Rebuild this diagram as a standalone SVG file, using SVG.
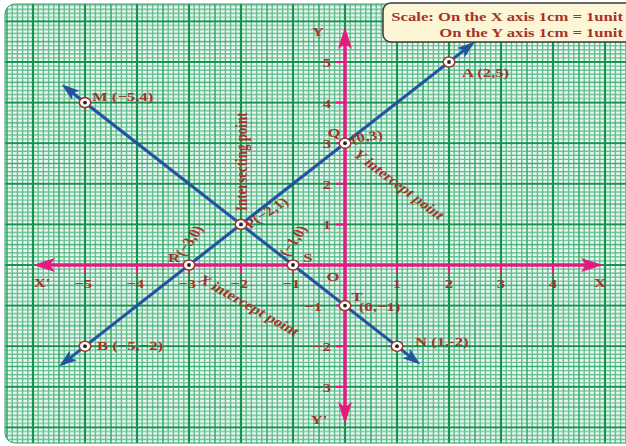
<svg xmlns="http://www.w3.org/2000/svg" width="626" height="446" viewBox="0 0 626 446">
<style>
.tick{font-family:"Liberation Serif","Times New Roman",serif;font-weight:bold;font-size:13px;fill:#a3342b}
.lbl{font-family:"Liberation Serif","Times New Roman",serif;font-weight:bold;font-size:13px;fill:#a3342b}
.scale{font-family:"Liberation Serif","Times New Roman",serif;font-weight:bold;font-size:13px;fill:#a3342b}
.axis{stroke:#e6197f;stroke-width:3.5;fill:none}
.tk{stroke:#e6197f;stroke-width:2}
.line{stroke:#2253a3;stroke-width:3;fill:none}
.pt{fill:#fff;stroke:#a3342b;stroke-width:1.6}
.dot{fill:#222}
</style>
<defs>
<pattern id="grid" patternUnits="userSpaceOnUse" x="345" y="265" width="52" height="40.6">
<rect width="52" height="40.6" fill="#f2faf5"/>
<path d="M5.2 0V40.6M10.4 0V40.6M15.6 0V40.6M20.8 0V40.6M31.2 0V40.6M36.4 0V40.6M41.6 0V40.6M46.8 0V40.6M0 4.06H52M0 8.12H52M0 12.18H52M0 16.24H52M0 24.36H52M0 28.42H52M0 32.48H52M0 36.54H52" stroke="#62be8f" stroke-width="1.4"/>
<path d="M26 0V40.6M0 20.3H52" stroke="#3aab70" stroke-width="1.6"/>
<path d="M0 0V40.6M52 0V40.6M0 0H52M0 40.6H52" stroke="#14954d" stroke-width="2.2"/>
</pattern>
<marker id="pinkArrow" markerUnits="userSpaceOnUse" viewBox="-14 -8 26 16" markerWidth="26" markerHeight="16" refX="0" refY="0" orient="auto-start-reverse">
<path d="M10,0 L-12,-7 L-7,0 L-12,7 z" fill="#e6197f"/>
</marker>
<marker id="blueArrow" markerUnits="userSpaceOnUse" viewBox="-12 -7 22 14" markerWidth="22" markerHeight="14" refX="0" refY="0" orient="auto-start-reverse">
<path d="M8,0 L-10,-6 L-6,0 L-10,6 z" fill="#2253a3"/>
</marker>
</defs>

<g id="paper">
<rect x="5" y="4" width="640" height="439" rx="10" fill="url(#grid)" stroke="#2e9e60" stroke-width="1"/>
</g>

<g id="axes">
<line class="axis" x1="43" y1="265" x2="593" y2="265" marker-start="url(#pinkArrow)" marker-end="url(#pinkArrow)"/>
<line class="axis" x1="345" y1="37" x2="345" y2="414" marker-start="url(#pinkArrow)" marker-end="url(#pinkArrow)"/>
<path class="tk" d="M85 265V273M137 265V273M189 265V273M241 265V273M293 265V273M397 265V273M449 265V273M501 265V273M553 265V273M336 62H345M336 102.6H345M336 143.2H345M336 183.8H345M336 224.4H345M336 305.6H345M336 346.2H345M336 386.8H345"/>
<g class="tick">
<text transform="translate(42 287) scale(1.28 1)" text-anchor="middle">X'</text>
<text transform="translate(600 287) scale(1.28 1)" text-anchor="middle">X</text>
<text transform="translate(318 36) scale(1.28 1)" text-anchor="middle">Y</text>
<text transform="translate(319 424) scale(1.28 1)" text-anchor="middle">Y'</text>
<text transform="translate(333 281) scale(1.28 1)" text-anchor="middle">O</text>
<text transform="translate(92 288) scale(1.28 1)" text-anchor="end">−5</text>
<text transform="translate(144 288) scale(1.28 1)" text-anchor="end">−4</text>
<text transform="translate(196 288) scale(1.28 1)" text-anchor="end">−3</text>
<text transform="translate(248 288) scale(1.28 1)" text-anchor="end">−2</text>
<text transform="translate(300 288) scale(1.28 1)" text-anchor="end">−1</text>
<text transform="translate(397 288) scale(1.28 1)" text-anchor="middle">1</text>
<text transform="translate(449 288) scale(1.28 1)" text-anchor="middle">2</text>
<text transform="translate(501 288) scale(1.28 1)" text-anchor="middle">3</text>
<text transform="translate(553 288) scale(1.28 1)" text-anchor="middle">4</text>
<text transform="translate(331 67) scale(1.28 1)" text-anchor="end">5</text>
<text transform="translate(331 107.6) scale(1.28 1)" text-anchor="end">4</text>
<text transform="translate(331 148.2) scale(1.28 1)" text-anchor="end">3</text>
<text transform="translate(331 188.8) scale(1.28 1)" text-anchor="end">2</text>
<text transform="translate(331 229.4) scale(1.28 1)" text-anchor="end">1</text>
<text transform="translate(322 310.6) scale(1.28 1)" text-anchor="end">−1</text>
<text transform="translate(331 351.2) scale(1.28 1)" text-anchor="end">−2</text>
<text transform="translate(331 391.8) scale(1.28 1)" text-anchor="end">−3</text>
</g>
</g>

<g id="connectors">
<line class="line" x1="65.3" y1="361.6" x2="468.7" y2="46.6" marker-start="url(#blueArrow)" marker-end="url(#blueArrow)"/>
<line class="line" x1="67.9" y1="89.2" x2="414.1" y2="359.6" marker-start="url(#blueArrow)" marker-end="url(#blueArrow)"/>
</g>

<g id="node-A"><ellipse class="pt" cx="449" cy="62" rx="5.8" ry="5"/><circle class="dot" cx="449" cy="62" r="1.9"/><text class="lbl" transform="translate(462 77) scale(1.28 1)">A (2,5)</text></g>
<g id="node-B"><ellipse class="pt" cx="85" cy="346.2" rx="5.8" ry="5"/><circle class="dot" cx="85" cy="346.2" r="1.9"/><text class="lbl" transform="translate(97 350) scale(1.28 1)">B (−5,−2)</text></g>
<g id="node-M"><ellipse class="pt" cx="85" cy="102.6" rx="5.8" ry="5"/><circle class="dot" cx="85" cy="102.6" r="1.9"/><text class="lbl" transform="translate(92 101) scale(1.28 1)">M (−5,4)</text></g>
<g id="node-N"><ellipse class="pt" cx="397" cy="346.2" rx="5.8" ry="5"/><circle class="dot" cx="397" cy="346.2" r="1.9"/><text class="lbl" transform="translate(415 346) scale(1.28 1)">N (1,-2)</text></g>
<g id="node-P"><ellipse class="pt" cx="241" cy="224.4" rx="5.8" ry="5"/><circle class="dot" cx="241" cy="224.4" r="1.9"/><text class="lbl" transform="translate(250 229) scale(1.28 1) rotate(-40)">P(−2,1)</text>
<text class="lbl" transform="translate(247 211) scale(1.28 1) rotate(-90)" font-size="13.5">Intersecting point</text></g>
<g id="node-Q"><ellipse class="pt" cx="345" cy="143.2" rx="5.8" ry="5"/><circle class="dot" cx="345" cy="143.2" r="1.9"/><text class="lbl" transform="translate(334 137) scale(1.28 1)" text-anchor="middle">Q</text><text class="lbl" transform="translate(352 143) scale(1.28 1) rotate(-10)">(0,3)</text>
<text class="lbl" transform="translate(352 155) scale(1.28 1) rotate(44)">Y intercept point</text></g>
<g id="node-R"><ellipse class="pt" cx="189" cy="265" rx="5.8" ry="5"/><circle class="dot" cx="189" cy="265" r="1.9"/><text class="lbl" transform="translate(174 262) scale(1.28 1)" text-anchor="middle">R</text><text class="lbl" transform="translate(184 257) scale(1.28 1) rotate(-61)">(−3,0)</text>
<text class="lbl" transform="translate(197 281) scale(1.28 1) rotate(36)">X intercept point</text></g>
<g id="node-S"><ellipse class="pt" cx="293" cy="265" rx="5.8" ry="5"/><circle class="dot" cx="293" cy="265" r="1.9"/><text class="lbl" transform="translate(308 262) scale(1.28 1)" text-anchor="middle">S</text><text class="lbl" transform="translate(288 257) scale(1.28 1) rotate(-61)">(−1,0)</text></g>
<g id="node-T"><ellipse class="pt" cx="345" cy="305.6" rx="5.8" ry="5"/><circle class="dot" cx="345" cy="305.6" r="1.9"/><text class="lbl" transform="translate(357 301) scale(1.28 1)" text-anchor="middle">T</text><text class="lbl" transform="translate(359 311) scale(1.28 1)">(0,−1)</text></g>

<g id="scale-box">
<rect x="383" y="3" width="260" height="39" rx="8" fill="#fdf6d6" stroke="#3a3a3a" stroke-width="1.5"/>
<text class="scale" transform="translate(623 21) scale(1.28 1)" text-anchor="end">Scale: On the X axis 1cm = 1unit</text>
<text class="scale" transform="translate(623 37) scale(1.28 1)" text-anchor="end">On the Y axis 1cm = 1unit</text>
</g>
</svg>
